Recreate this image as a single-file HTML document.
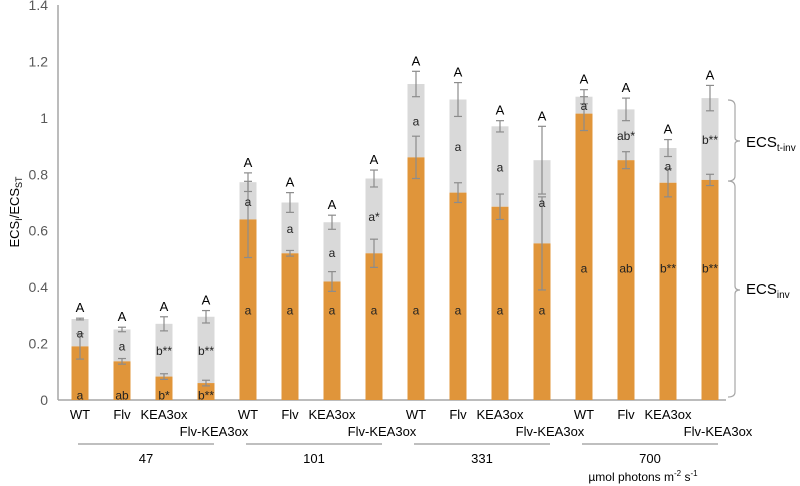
<!DOCTYPE html>
<html><head><meta charset="utf-8"><style>
html,body{margin:0;padding:0;background:#fff;}
svg{display:block;font-family:"Liberation Sans",Arial,sans-serif;}
</style></head><body>
<svg id="chart" width="800" height="486" viewBox="0 0 800 486"></svg>
<script>
const genotypes=["WT","Flv","KEA3ox","Flv-KEA3ox","WT","Flv","KEA3ox","Flv-KEA3ox","WT","Flv","KEA3ox","Flv-KEA3ox","WT","Flv","KEA3ox","Flv-KEA3ox"];
const groups=["47","101","331","700"];
const invValues=[0.19,0.137,0.083,0.06,0.64,0.52,0.42,0.52,0.86,0.735,0.685,0.555,1.015,0.85,0.77,0.78];
const invErrors=[0.045,0.01,0.01,0.01,0.135,0.01,0.035,0.05,0.075,0.035,0.045,0.165,0.06,0.03,0.05,0.02];
const totalValues=[0.287,0.25,0.27,0.295,0.772,0.70,0.63,0.785,1.12,1.065,0.97,0.85,1.075,1.03,0.893,1.07];
const totalErrors=[0.003,0.008,0.025,0.022,0.033,0.035,0.025,0.03,0.045,0.06,0.02,0.12,0.025,0.04,0.03,0.045];
const invLetters=["a","ab","b*","b**","a","a","a","a","a","a","a","a","a","ab","b**","b**"];
const tinvLetters=["a","a","b**","b**","a","a","a","a*","a","a","a","a","a","ab*","a","b**"];
const topLetters=["A","A","A","A","A","A","A","A","A","A","A","A","A","A","A","A"];
const invLetterY=[0.02,0.32,0.32,0.47];
const yTicks=[0,0.2,0.4,0.6,0.8,1,1.2,1.4];

const svg=document.getElementById('chart');
const NS="http://www.w3.org/2000/svg";
const y0=400,yScale=395/1.4;
const y=v=>y0-v*yScale;
const x=i=>80+i*42;
const bw=17;
function mk(tag,attrs,parent){const e=document.createElementNS(NS,tag);for(const k in attrs)e.setAttribute(k,attrs[k]);(parent||svg).appendChild(e);return e;}
function txt(s,attrs){const e=mk('text',attrs);e.textContent=s;return e;}

// axes
const ax=mk('line',{x1:58,y1:5,x2:58,y2:400,stroke:'#a6a6a6','stroke-width':1.5});


const bx=mk('line',{x1:58,y1:400,x2:726,y2:400,stroke:'#a6a6a6','stroke-width':1.5});


yTicks.forEach(t=>{
  const e=txt(String(t),{x:48,y:y(t)+5,'text-anchor':'end','font-size':14,fill:'#595959'});
  
  
});
const yt=mk('text',{transform:'translate(19,212) rotate(-90)','text-anchor':'middle','font-size':13,fill:'#000'});


yt.innerHTML='ECS<tspan font-size="9" dy="3">I</tspan><tspan dy="-3">/ECS</tspan><tspan font-size="9" dy="3">ST</tspan>';

for(let i=0;i<genotypes.length;i++){
  const cx=x(i),g=Math.floor(i/4);
  const gr=mk('rect',{x:cx-bw/2,y:y(totalValues[i]),width:bw,height:y(invValues[i])-y(totalValues[i]),fill:'#d9d9d9'});
  
  
  const or=mk('rect',{x:cx-bw/2,y:y(invValues[i]),width:bw,height:y0-y(invValues[i]),fill:'#e0953a'});
  
  
  [[invValues[i],invErrors[i]],[totalValues[i],totalErrors[i]]].forEach(([v,e])=>{
    const eg=mk('g',{stroke:'#8c8c8c','stroke-width':1.2});
    
    
    mk('line',{x1:cx,x2:cx,y1:y(v+e),y2:y(v-e)},eg);
    mk('line',{x1:cx-4,x2:cx+4,y1:y(v+e),y2:y(v+e)},eg);
    mk('line',{x1:cx-4,x2:cx+4,y1:y(v-e),y2:y(v-e)},eg);
  });
  const l1=txt(invLetters[i],{x:cx,y:y(invLetterY[g])+5,'text-anchor':'middle','font-size':12,fill:'#222'});
  
  
  const l2=txt(tinvLetters[i],{x:cx,y:y((invValues[i]+totalValues[i])/2)+5,'text-anchor':'middle','font-size':12,fill:'#222'});
  
  
  const l3=txt(topLetters[i],{x:cx,y:y(totalValues[i]+totalErrors[i])-6,'text-anchor':'middle','font-size':13,fill:'#000'});
  
  
  const cl=txt(genotypes[i],{x:(i%4===3)?cx+8:cx,y:(i%4===3)?436:419,'text-anchor':'middle','font-size':13,fill:'#000'});
  
  
}
groups.forEach((gname,g)=>{
  const a=x(g*4)-2,b=x(g*4+3)+8;
  const ln=mk('line',{x1:a,x2:b,y1:444,y2:444,stroke:'#bfbfbf','stroke-width':2});
  
  
  const t=txt(gname,{x:(a+b)/2,y:463,'text-anchor':'middle','font-size':13,fill:'#000'});
  
  
});
const un=mk('text',{x:643,y:481,'text-anchor':'middle','font-size':12,fill:'#000'});


un.innerHTML='µmol photons m<tspan font-size="8" dy="-5">-2</tspan><tspan dy="5"> s</tspan><tspan font-size="8" dy="-5">-1</tspan>';

// brackets
const br=mk('path',{d:'M728 100 Q735 100 735 106 L735 138 Q735 141 740 141 Q735 141 735 144 L735 176 Q735 181 728 181 M728 181 Q735 181 735 187 L735 286 Q735 290 740 290 Q735 290 735 294 L735 392 Q735 397 728 397',fill:'none',stroke:'#a6a6a6','stroke-width':1.2});


const e1=mk('text',{x:746,y:147,'font-size':15,fill:'#000'});


e1.innerHTML='ECS<tspan font-size="10" dy="4">t-inv</tspan>';
const e2=mk('text',{x:746,y:294,'font-size':15,fill:'#000'});


e2.innerHTML='ECS<tspan font-size="10" dy="4">inv</tspan>';
</script>
</body></html>
